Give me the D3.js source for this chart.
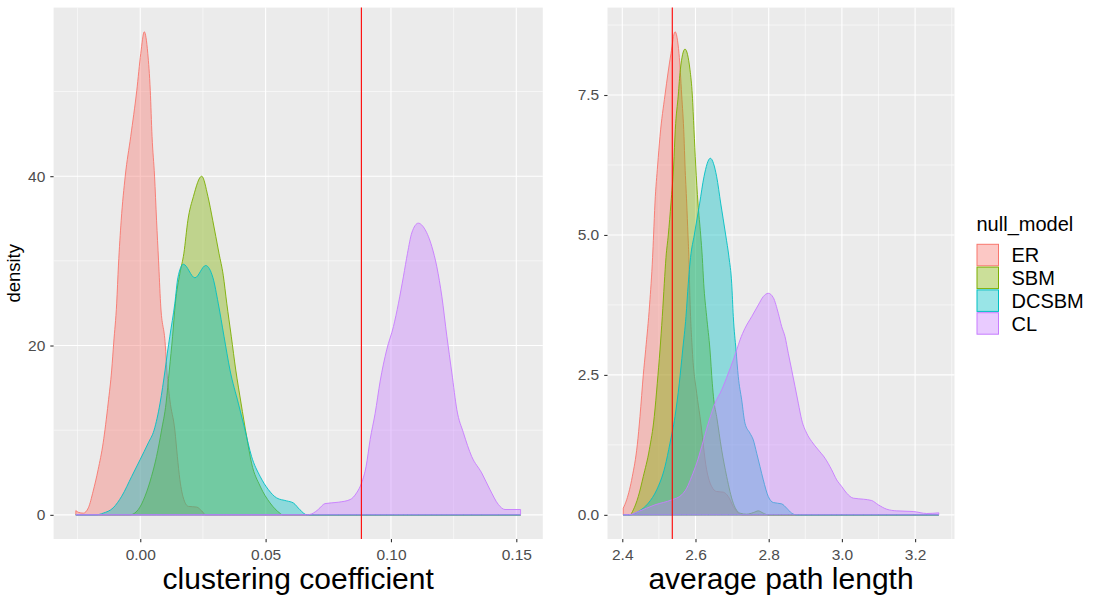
<!DOCTYPE html>
<html>
<head>
<meta charset="utf-8">
<script src="https://cdn.jsdelivr.net/npm/d3@7"></script>
<style>
    body { margin: 0; background: #ffffff; }
    text { font-family: "Liberation Sans", Arial, sans-serif; }
</style>
</head>
<body>
<script>

// null models, in legend order
const models = ['ER', 'SBM', 'DCSBM', 'CL'];

// observed values (vertical lines)
const ccObserved = 0.0882;
const aplObserved = 2.5366;

// density of clustering coefficient, [x, density]
const ccER = [[-0.0257, 0.5], [-0.0247, 0.3], [-0.0227, 0.2], [-0.0207, 0.83], [-0.0188, 2.79],
    [-0.0168, 5.35], [-0.0148, 8.5], [-0.0128, 13.2], [-0.0114, 17.1], [-0.0106, 20.3],
    [-0.0094, 25.0], [-0.0087, 29.5], [-0.0076, 34.8], [-0.0060, 40.0], [-0.0038, 44.7],
    [-0.0014, 50.1], [0.0002, 54.5], [0.0016, 57.06], [0.0030, 54.5], [0.0040, 50.1],
    [0.0047, 44.7], [0.0057, 40.0], [0.0065, 34.8], [0.0073, 30.0], [0.0081, 25.0],
    [0.0100, 20.0], [0.0106, 17.1], [0.0118, 13.6], [0.0138, 10.0], [0.0148, 6.9],
    [0.0158, 4.17], [0.0174, 1.8], [0.0192, 1.0], [0.0225, 0.92], [0.0245, 0.47],
    [0.0261, 0.0], [0.1517, 0.0]];
const ccSBM = [[-0.0257, 0], [-0.0041, 0], [-0.0008, 0.62], [0.0019, 2.2], [0.0045, 4.55],
    [0.0065, 6.9], [0.0085, 10.0], [0.0103, 13.2], [0.0116, 17.1], [0.0129, 21.1],
    [0.0140, 25.0], [0.0158, 28.5], [0.0174, 30.9], [0.0190, 34.8], [0.0212, 37.6],
    [0.0245, 40.0], [0.0270, 37.6], [0.0289, 34.8], [0.0314, 30.9], [0.0331, 28.3],
    [0.0345, 25.0], [0.0363, 21.1], [0.0381, 17.1], [0.0402, 13.2], [0.0424, 9.3],
    [0.0444, 6.1], [0.0478, 3.4], [0.0518, 1.4], [0.0557, 0.2], [0.0568, 0], [0.1517, 0]];
const ccDCSBM = [[-0.0257, 0], [-0.0177, 0], [-0.0148, 0.2], [-0.0108, 0.83], [-0.0074, 2.2],
    [-0.0034, 4.55], [-0.0001, 6.5], [0.0032, 8.5], [0.0055, 10.0], [0.0079, 13.2],
    [0.0099, 17.1], [0.0108, 19.1], [0.0118, 21.1], [0.0138, 25.0], [0.0150, 28.0],
    [0.0172, 29.6], [0.0218, 28.0], [0.0261, 29.45], [0.0290, 28.0], [0.0311, 25.0],
    [0.0334, 21.1], [0.0358, 17.1], [0.0391, 13.2], [0.0418, 10.0], [0.0444, 6.9],
    [0.0478, 4.55], [0.0511, 2.98], [0.0544, 2.0], [0.0584, 1.65], [0.0611, 1.4],
    [0.0637, 0.6], [0.0665, 0], [0.1517, 0]];
const ccCL = [[-0.0257, 0], [0.0664, 0], [0.0690, 0.2], [0.0710, 0.63], [0.0737, 1.33],
    [0.0790, 1.49], [0.0837, 1.8], [0.0863, 2.6], [0.0883, 3.78], [0.0901, 5.74],
    [0.0917, 8.9], [0.0937, 12.0], [0.0957, 15.8], [0.0983, 19.5], [0.1010, 22.25],
    [0.1030, 25.0], [0.1050, 28.2], [0.1066, 30.9], [0.1083, 33.3], [0.1109, 34.45],
    [0.1136, 33.7], [0.1163, 31.7], [0.1183, 29.3], [0.1203, 25.8], [0.1223, 21.1],
    [0.1243, 16.75], [0.1263, 12.4], [0.1289, 9.7], [0.1322, 6.9], [0.1362, 4.95],
    [0.1395, 2.98], [0.1429, 1.2], [0.1455, 0.63], [0.1517, 0.63]];

// density of average path length, [x, density]
const aplER = [[2.4027, 0.12], [2.412, 0.27], [2.4273, 0.68], [2.441, 1.25], [2.4484, 1.76],
    [2.4574, 2.5], [2.4639, 2.95], [2.4746, 3.75], [2.4828, 4.6], [2.4855, 5.0],
    [2.4893, 5.57], [2.4967, 6.25], [2.503, 6.76], [2.5167, 7.5], [2.533, 8.24],
    [2.544, 8.63], [2.555, 8.24], [2.5623, 7.5], [2.5686, 6.76], [2.5713, 6.25],
    [2.576, 5.57], [2.5795, 5.0], [2.5822, 4.55], [2.585, 3.84], [2.5913, 2.946],
    [2.6033, 2.173], [2.6123, 1.756], [2.6305, 0.804], [2.6442, 0.506], [2.6578, 0.417],
    [2.676, 0.405], [2.6896, 0.327], [2.7033, 0.149], [2.7169, 0.03], [2.7262, 0],
    [3.2645, 0]];
const aplSBM = [[2.4027, 0], [2.421, 0], [2.4301, 0.089], [2.4437, 0.327], [2.4574, 0.685],
    [2.4738, 1.161], [2.4874, 1.756], [2.4956, 2.351], [2.503, 2.946], [2.5093, 3.542],
    [2.5148, 4.137], [2.5194, 4.6], [2.5257, 5.0], [2.533, 5.57], [2.5404, 6.25],
    [2.5448, 6.88], [2.553, 7.5], [2.5585, 7.95], [2.5713, 8.32], [2.585, 7.95],
    [2.5913, 7.5], [2.5959, 6.88], [2.6005, 6.25], [2.6068, 5.57], [2.6142, 5.0],
    [2.6186, 4.6], [2.6224, 4.137], [2.6305, 3.542], [2.6396, 2.946], [2.6459, 2.351],
    [2.6500, 2.054], [2.6578, 1.756], [2.6715, 1.161], [2.6852, 0.685], [2.7033, 0.208],
    [2.7216, 0.03], [2.7399, 0.012], [2.7579, 0.04], [2.7716, 0.071], [2.7852, 0.03],
    [2.7989, 0], [3.2645, 0]];
const aplDCSBM = [[2.4027, 0], [2.421, 0], [2.4437, 0.059], [2.471, 0.208], [2.494, 0.446],
    [2.5167, 0.863], [2.5303, 1.28], [2.544, 1.756], [2.5557, 2.351], [2.565, 2.946],
    [2.574, 3.542], [2.5803, 4.137], [2.5865, 4.6], [2.5967, 5.0], [2.6115, 5.57],
    [2.6232, 6.04], [2.6404, 6.37], [2.6579, 6.04], [2.6688, 5.57], [2.6825, 5.0],
    [2.6915, 4.6], [2.6989, 4.137], [2.7033, 3.542], [2.7107, 2.946], [2.7169, 2.47],
    [2.7262, 2.054], [2.7352, 1.637], [2.7489, 1.458], [2.7579, 1.339], [2.7672, 1.101],
    [2.7762, 0.863], [2.7852, 0.625], [2.7989, 0.327], [2.8126, 0.22], [2.8355, 0.196],
    [2.8492, 0.119], [2.8628, 0.03], [2.8765, 0], [3.2645, 0]];
const aplCL = [[2.4027, 0], [2.4164, 0], [2.4437, 0.059], [2.4893, 0.179], [2.535, 0.268],
    [2.5623, 0.357], [2.576, 0.476], [2.5896, 0.685], [2.6033, 0.923], [2.6169, 1.22],
    [2.635, 1.637], [2.6533, 1.994], [2.6716, 2.232], [2.6896, 2.53], [2.7033, 2.768],
    [2.7126, 2.946], [2.7216, 3.125], [2.7352, 3.333], [2.7536, 3.542], [2.7716, 3.75],
    [2.7852, 3.899], [2.7989, 3.958], [2.8126, 3.88], [2.8262, 3.601], [2.8355, 3.363],
    [2.8445, 3.185], [2.8535, 2.887], [2.8628, 2.589], [2.8719, 2.292], [2.8809, 1.994],
    [2.8902, 1.696], [2.9038, 1.458], [2.9175, 1.31], [2.9355, 1.161], [2.9538, 1.012],
    [2.9721, 0.804], [2.9858, 0.625], [2.9995, 0.506], [3.0131, 0.387], [3.0311, 0.298],
    [3.0585, 0.28], [3.0814, 0.256], [3.0995, 0.179], [3.1224, 0.101], [3.1497, 0.071],
    [3.1951, 0.06], [3.2317, 0.024], [3.2645, 0.036]];

// breaks
const ccTicks = [0, 0.05, 0.10, 0.15];
const ccMinor = [-0.025, 0.025, 0.075, 0.125];
const ccDensTicks = [0, 20, 40];
const ccDensMinor = [10, 30, 50];
const aplTicks = [2.4, 2.6, 2.8, 3.0, 3.2];
const aplMinor = [2.5, 2.7, 2.9, 3.1, 3.3];
const aplDensTicks = [0, 2.5, 5.0, 7.5];
const aplDensMinor = [1.25, 3.75, 6.25, 8.75];

// ggplot hue palette
const palette = ['#F8766D', '#7CAE00', '#00BFC4', '#C77CFF'];

const W = 1100, H = 600;
const panelTop = 7.6, panelBottom = 539;

const svg = d3.select('body').append('svg')
    .attr('width', W)
    .attr('height', H);

// 5% expansion like ggplot
function expand(ext) {
    const pad = (ext[1] - ext[0]) * 0.05;
    return [ext[0] - pad, ext[1] + pad];
}

function drawPanel(p) {
    const all = p.series.flat();
    const x = d3.scaleLinear()
        .domain(expand(d3.extent(all, d => d[0])))
        .range([p.left, p.right]);
    const y = d3.scaleLinear()
        .domain(expand([0, d3.max(all, d => d[1])]))
        .range([panelBottom, panelTop]);

    const g = svg.append('g');

    g.append('rect')
        .attr('x', p.left)
        .attr('y', panelTop)
        .attr('width', p.right - p.left)
        .attr('height', panelBottom - panelTop)
        .attr('fill', '#EBEBEB');

    // grid
    g.append('g').selectAll('line')
        .data(p.xMinor)
        .enter().append('line')
        .attr('x1', d => x(d)).attr('x2', d => x(d))
        .attr('y1', panelTop).attr('y2', panelBottom)
        .attr('stroke', '#ffffff').attr('stroke-width', 0.55);
    g.append('g').selectAll('line')
        .data(p.yMinor)
        .enter().append('line')
        .attr('x1', p.left).attr('x2', p.right)
        .attr('y1', d => y(d)).attr('y2', d => y(d))
        .attr('stroke', '#ffffff').attr('stroke-width', 0.55);
    g.append('g').selectAll('line')
        .data(p.xTicks)
        .enter().append('line')
        .attr('x1', d => x(d)).attr('x2', d => x(d))
        .attr('y1', panelTop).attr('y2', panelBottom)
        .attr('stroke', '#ffffff').attr('stroke-width', 1.1);
    g.append('g').selectAll('line')
        .data(p.yTicks)
        .enter().append('line')
        .attr('x1', p.left).attr('x2', p.right)
        .attr('y1', d => y(d)).attr('y2', d => y(d))
        .attr('stroke', '#ffffff').attr('stroke-width', 1.1);

    // densities
    const area = d3.area()
        .x(d => x(d[0]))
        .y0(y(0))
        .y1(d => y(d[1]))
        .curve(d3.curveMonotoneX);

    g.append('g').selectAll('path')
        .data(p.series)
        .enter().append('path')
        .attr('d', d => area(d))
        .attr('fill', (d, i) => palette[i])
        .attr('fill-opacity', 0.4)
        .attr('stroke', (d, i) => palette[i])
        .attr('stroke-width', 0.9);

    // observed value
    g.append('line')
        .attr('x1', x(p.vline)).attr('x2', x(p.vline))
        .attr('y1', panelTop).attr('y2', panelBottom)
        .attr('stroke', '#FF0000')
        .attr('stroke-width', 1.1);

    // axes
    const xAxis = g.append('g')
        .attr('transform', `translate(0,${panelBottom})`)
        .call(d3.axisBottom(x).tickValues(p.xTicks).tickFormat(p.fmtX)
            .tickSize(3.3).tickPadding(7));
    const yAxis = g.append('g')
        .attr('transform', `translate(${p.left},0)`)
        .call(d3.axisLeft(y).tickValues(p.yTicks).tickFormat(p.fmtY)
            .tickSize(3.3).tickPadding(5));
    for (let ax of [xAxis, yAxis]) {
        ax.select('.domain').remove();
        ax.selectAll('line').attr('stroke', '#333333').attr('stroke-width', 1.1);
        ax.selectAll('text')
            .attr('fill', '#4D4D4D')
            .style('font-size', '15.5px')
            .style('font-family', '"Liberation Sans", Arial, sans-serif');
    }

    g.append('text')
        .attr('x', (p.left + p.right) / 2)
        .attr('y', 589)
        .attr('text-anchor', 'middle')
        .style('font-size', '30px')
        .attr('fill', '#000000')
        .text(p.title);

    if (p.yTitle) {
        g.append('text')
            .attr('transform', `translate(20,${(panelTop + panelBottom) / 2}) rotate(-90)`)
            .attr('text-anchor', 'middle')
            .style('font-size', '18.5px')
            .attr('fill', '#000000')
            .text(p.yTitle);
    }
}

drawPanel({
    left: 53.6, right: 542.8,
    series: [ccER, ccSBM, ccDCSBM, ccCL],
    xTicks: ccTicks, xMinor: ccMinor,
    yTicks: ccDensTicks, yMinor: ccDensMinor,
    fmtX: d3.format('.2f'), fmtY: d3.format('d'),
    vline: ccObserved,
    title: 'clustering coefficient',
    yTitle: 'density'
});

drawPanel({
    left: 607.5, right: 954.5,
    series: [aplER, aplSBM, aplDCSBM, aplCL],
    xTicks: aplTicks, xMinor: aplMinor,
    yTicks: aplDensTicks, yMinor: aplDensMinor,
    fmtX: d3.format('.1f'), fmtY: d3.format('.1f'),
    vline: aplObserved,
    title: 'average path length'
});

// legend
const legend = svg.append('g')
    .attr('transform', 'translate(976.5,0)');

legend.append('text')
    .attr('x', 0)
    .attr('y', 231)
    .style('font-size', '20px')
    .attr('fill', '#000000')
    .text('null_model');

const keys = legend.selectAll('g.key')
    .data(models)
    .enter().append('g')
    .attr('class', 'key')
    .attr('transform', (d, i) => `translate(0,${243.8 + i * 22.8})`);

keys.append('rect')
    .attr('x', 0.5).attr('y', 0.5)
    .attr('width', 21.5).attr('height', 21.5)
    .attr('fill', (d, i) => palette[i])
    .attr('fill-opacity', 0.4)
    .attr('stroke', (d, i) => palette[i])
    .attr('stroke-width', 1);

keys.append('text')
    .attr('x', 35)
    .attr('y', 11.2)
    .attr('dy', '0.36em')
    .style('font-size', '20px')
    .attr('fill', '#000000')
    .text(d => d);

</script>
</body>
</html>
